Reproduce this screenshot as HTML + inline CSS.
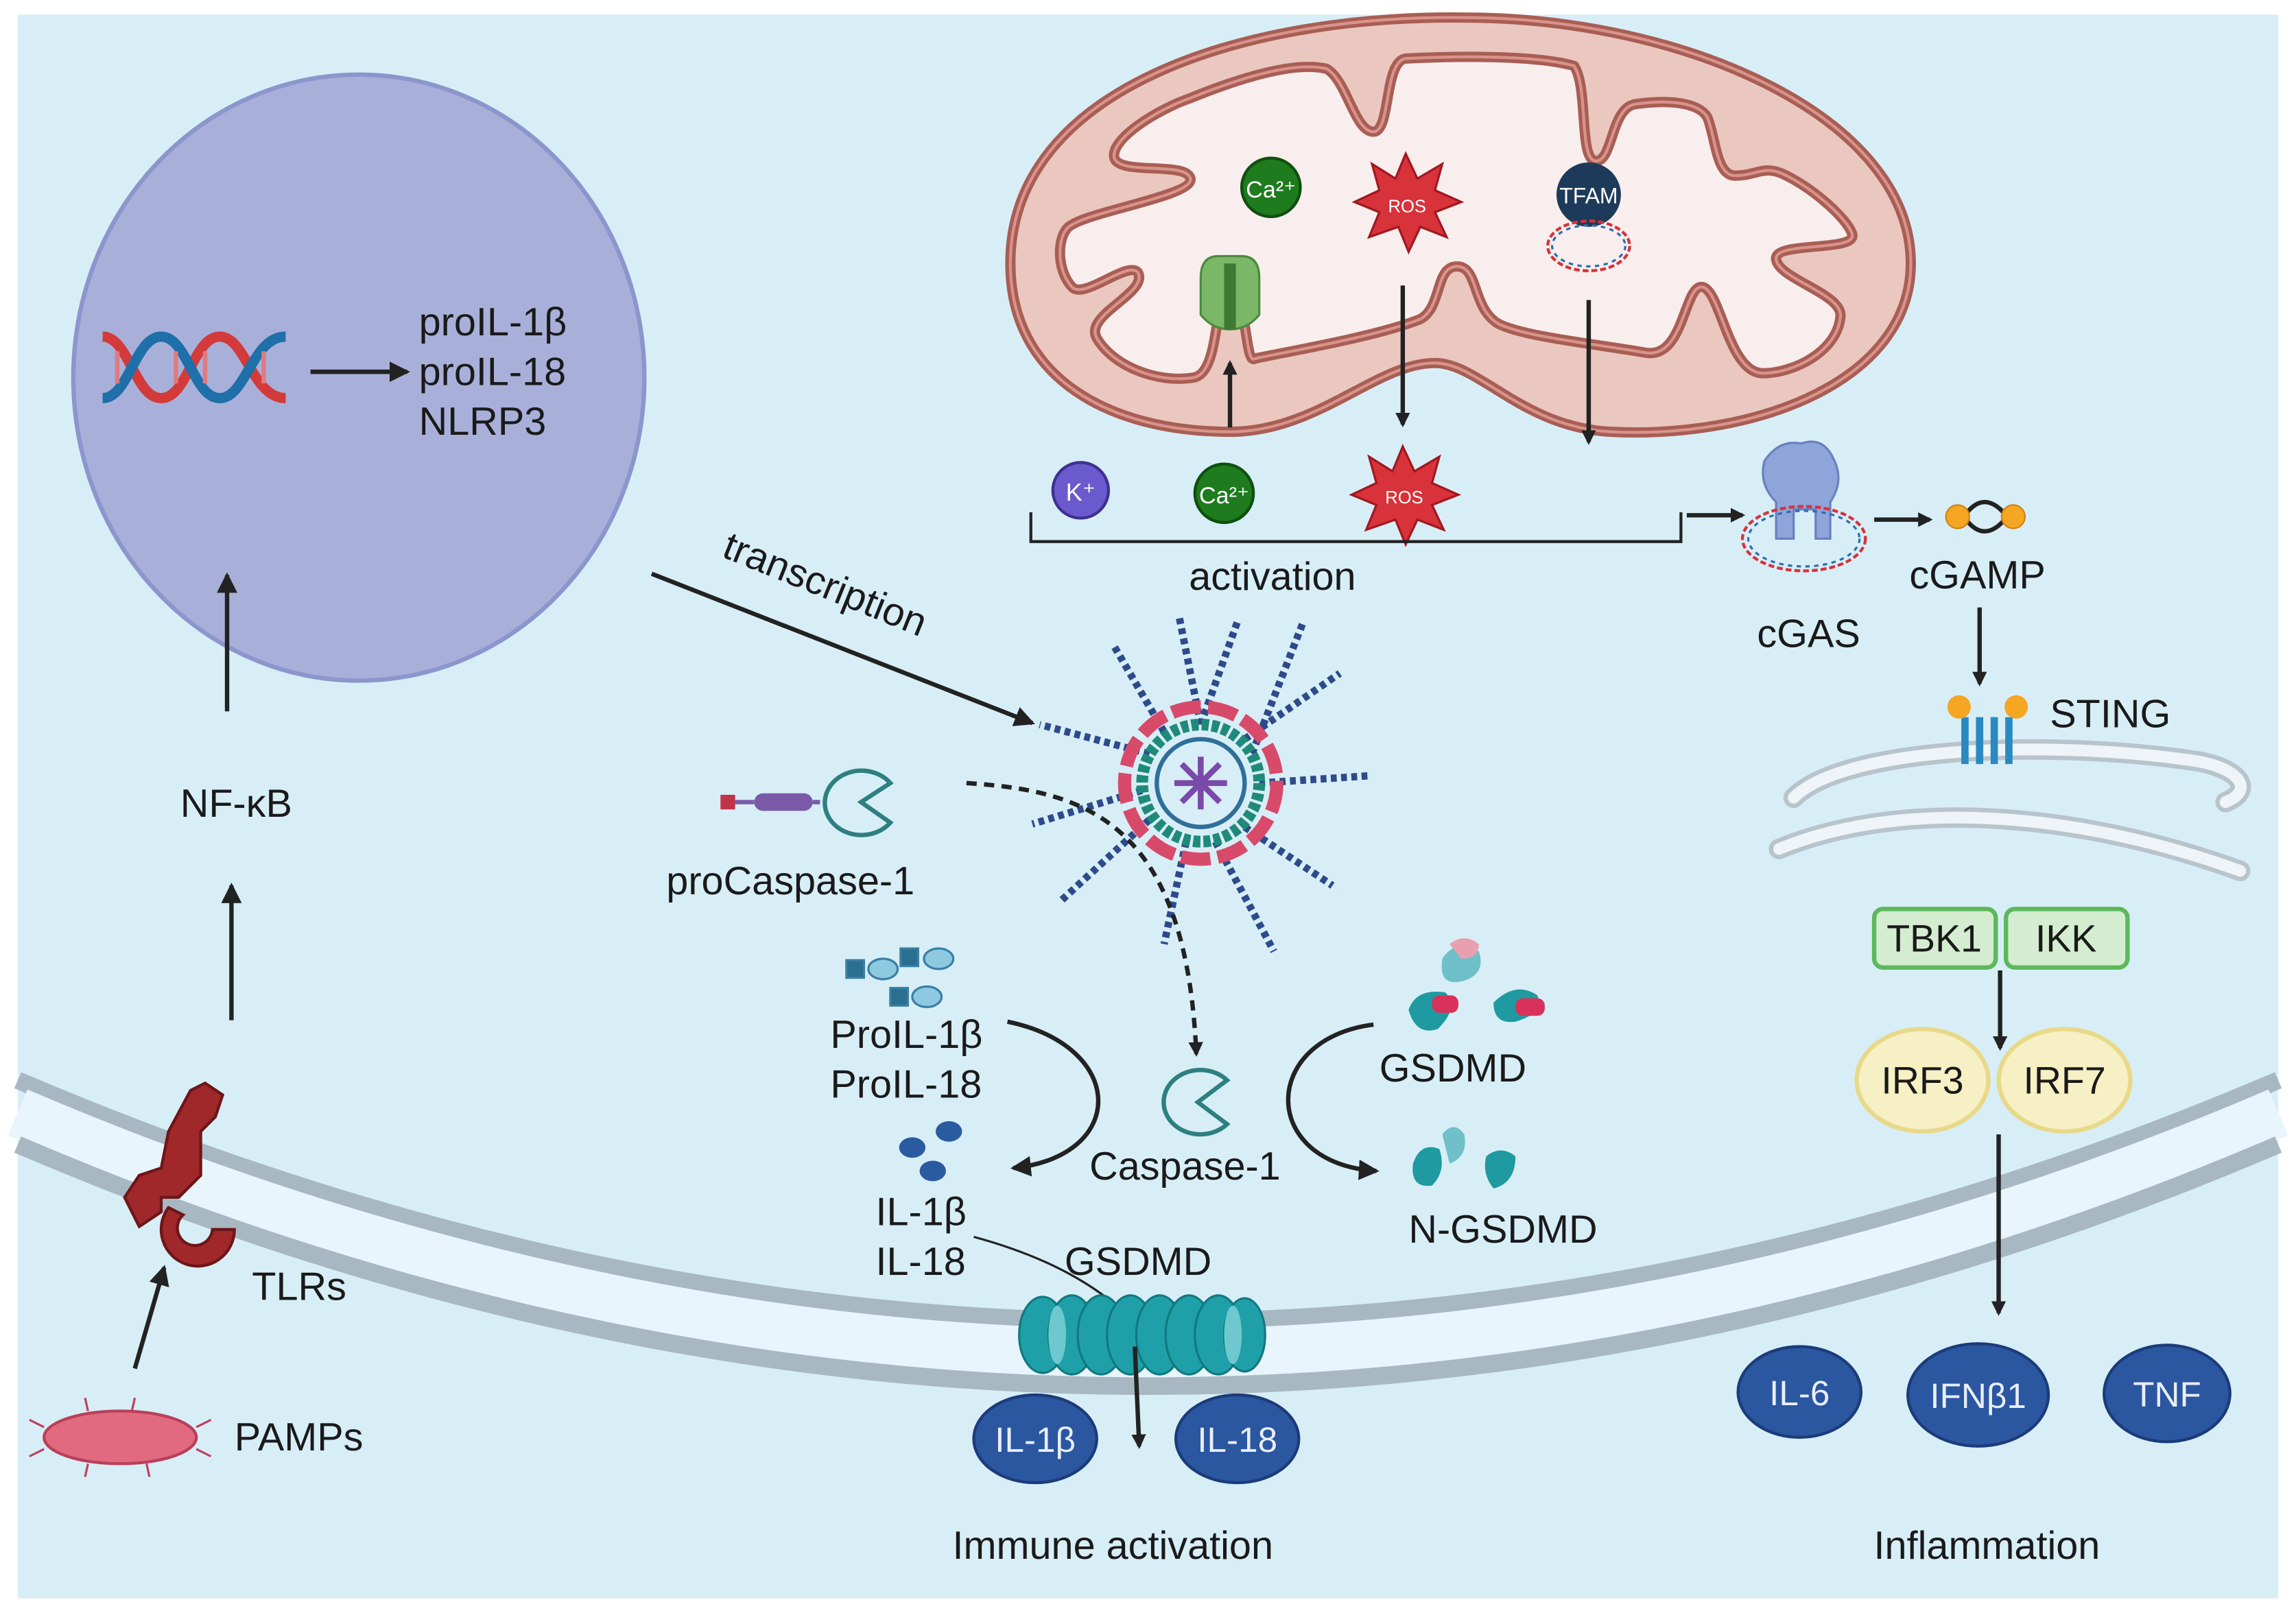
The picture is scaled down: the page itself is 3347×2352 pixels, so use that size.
<!DOCTYPE html>
<html><head><meta charset="utf-8"><style>
html,body{margin:0;padding:0;background:#fff;}
svg{display:block;}
text{font-family:"Liberation Sans",sans-serif;fill:#1a1a1a;}
</style></head><body>
<svg width="3347" height="2352" viewBox="0 0 1568 1102" xmlns="http://www.w3.org/2000/svg">
<defs>
<marker id="ah" markerWidth="10" markerHeight="10" refX="8" refY="5" orient="auto" markerUnits="userSpaceOnUse"><path d="M0,0 L10,5 L0,10 z" fill="#222"/></marker>
<marker id="ah2" markerWidth="14" markerHeight="14" refX="12" refY="7" orient="auto" markerUnits="userSpaceOnUse"><path d="M0,0 L14,7 L0,14 z" fill="#222"/></marker>
</defs>
<rect x="12" y="10" width="1544" height="1082" fill="#d8eef7"/>
<!-- membrane -->
<path d="M12,738 Q784,1068 1556,738" fill="none" stroke="#a8b8c3" stroke-width="12"/>
<path d="M12,760 Q784,1090 1556,760" fill="none" stroke="#e8f5fc" stroke-width="34"/>
<path d="M12,782 Q784,1112 1556,782" fill="none" stroke="#a8b8c3" stroke-width="12"/>
<!-- nucleus -->
<ellipse cx="245" cy="258" rx="195" ry="207" fill="#a8b0da" stroke="#8c95cc" stroke-width="3"/>
<path d="M70,230 C88,230 92,272 110,272 C128,272 132,230 150,230 C168,230 172,272 195,272" fill="none" stroke="#d33a3a" stroke-width="7"/>
<path d="M70,272 C88,272 92,230 110,230 C128,230 132,272 150,272 C168,272 172,230 195,230" fill="none" stroke="#1f6fa8" stroke-width="7"/>
<g stroke="#e07a80" stroke-width="3"><line x1="80" y1="240" x2="80" y2="262"/><line x1="120" y1="240" x2="120" y2="262"/><line x1="140" y1="240" x2="140" y2="262"/><line x1="180" y1="240" x2="180" y2="262"/></g>
<line x1="212" y1="254" x2="278" y2="254" stroke="#222" stroke-width="3" marker-end="url(#ah2)"/>
<text x="286" y="229" font-size="27">proIL-1β</text>
<text x="286" y="263" font-size="27">proIL-18</text>
<text x="286" y="297" font-size="27">NLRP3</text>
<line x1="155" y1="486" x2="155" y2="393" stroke="#222" stroke-width="3" marker-end="url(#ah2)"/>
<text x="123" y="558" font-size="27">NF-κB</text>
<line x1="158" y1="697" x2="158" y2="605" stroke="#222" stroke-width="3" marker-end="url(#ah2)"/>
<!-- TLRs -->
<path d="M130,745 l10,-5 l12,8 l-5,15 l-10,10 l0,30 l-15,15 l-12,0 l0,10 l-15,10 l-10,-20 l10,-15 l15,-5 l5,-25 z" fill="#a0272a" stroke="#6d1618" stroke-width="2"/>
<path d="M115,825 a25,25 0 1,0 45,15 l-15,0 a12,12 0 1,1 -20,-10 z" fill="#a0272a" stroke="#6d1618" stroke-width="2"/>
<text x="172" y="888" font-size="27">TLRs</text>
<line x1="92" y1="935" x2="112" y2="866" stroke="#222" stroke-width="3" marker-end="url(#ah2)"/>
<ellipse cx="82" cy="982" rx="52" ry="18" fill="#e26a80" stroke="#b84058" stroke-width="2"/>
<g stroke="#c04060" stroke-width="1.5"><line x1="30" y1="975" x2="20" y2="970"/><line x1="30" y1="990" x2="20" y2="995"/><line x1="134" y1="975" x2="144" y2="970"/><line x1="134" y1="990" x2="144" y2="995"/><line x1="60" y1="964" x2="58" y2="955"/><line x1="90" y1="964" x2="92" y2="955"/><line x1="60" y1="1000" x2="58" y2="1009"/><line x1="100" y1="1000" x2="102" y2="1009"/></g>
<text x="160" y="991" font-size="27">PAMPs</text>
<!-- transcription -->
<line x1="445" y1="392" x2="705" y2="494" stroke="#222" stroke-width="3" marker-end="url(#ah2)"/>
<text x="492" y="380" font-size="27" transform="rotate(22 492 380)">transcription</text>
<!-- inflammasome -->
<g transform="translate(820,535)">
<g stroke="#2d4b8a" stroke-width="5" stroke-dasharray="4 3">
<line x1="0" y1="-40" x2="-15" y2="-115"/><line x1="0" y1="-40" x2="25" y2="-110"/><line x1="30" y1="-30" x2="95" y2="-75"/><line x1="40" y1="0" x2="115" y2="-5"/><line x1="30" y1="30" x2="90" y2="70"/><line x1="10" y1="40" x2="50" y2="115"/><line x1="-10" y1="40" x2="-25" y2="110"/><line x1="-35" y1="25" x2="-95" y2="80"/><line x1="-40" y1="5" x2="-115" y2="28"/><line x1="-35" y1="-20" x2="-110" y2="-40"/><line x1="-25" y1="-35" x2="-60" y2="-95"/><line x1="35" y1="-20" x2="70" y2="-110"/>
</g>
<circle r="52" fill="none" stroke="#d84a6a" stroke-width="9" stroke-dasharray="20 5"/>
<circle r="40" fill="#d8eef7" stroke="#1f8a7a" stroke-width="8" stroke-dasharray="5 2"/>
<circle r="30" fill="#d8eef7" stroke="#2f6f9a" stroke-width="3"/>
<g stroke="#7a4aa8" stroke-width="4"><line x1="-18" y1="0" x2="18" y2="0"/><line x1="0" y1="-18" x2="0" y2="18"/><line x1="-13" y1="-13" x2="13" y2="13"/><line x1="-13" y1="13" x2="13" y2="-13"/></g>
</g>
<!-- proCaspase -->
<rect x="492" y="543" width="10" height="10" fill="#c0344a"/>
<line x1="502" y1="548" x2="515" y2="548" stroke="#7a5aa8" stroke-width="3"/>
<rect x="515" y="542" width="40" height="12" rx="6" fill="#7a5aa8"/>
<line x1="555" y1="548" x2="560" y2="548" stroke="#7a5aa8" stroke-width="3"/>
<path d="M608,535 A25,22 0 1,0 608,562 L588,548 z" fill="#d8eef7" stroke="#2e7f80" stroke-width="3"/>
<text x="455" y="611" font-size="27">proCaspase-1</text>
<path d="M660,535 C740,540 810,560 817,720" fill="none" stroke="#222" stroke-width="3" stroke-dasharray="7 5" marker-end="url(#ah)"/>
<!-- ProIL icons -->
<g fill="#8fc9e0" stroke="#3a7fa5" stroke-width="1.5"><rect x="578" y="656" width="12" height="12" fill="#2a6f8f"/><ellipse cx="603" cy="662" rx="10" ry="7"/><rect x="615" y="648" width="12" height="12" fill="#2a6f8f"/><ellipse cx="641" cy="655" rx="10" ry="7"/><rect x="608" y="675" width="12" height="12" fill="#2a6f8f"/><ellipse cx="633" cy="681" rx="10" ry="7"/></g>
<text x="567" y="716" font-size="27">ProIL-1β</text>
<text x="567" y="750" font-size="27">ProIL-18</text>
<path d="M688,698 C770,715 770,790 692,798" fill="none" stroke="#222" stroke-width="3" marker-end="url(#ah2)"/>
<g fill="#2a5aa0"><ellipse cx="623" cy="784" rx="9" ry="7"/><ellipse cx="648" cy="773" rx="9" ry="7"/><ellipse cx="637" cy="800" rx="9" ry="7"/></g>
<text x="598" y="837" font-size="27">IL-1β</text>
<text x="598" y="871" font-size="27">IL-18</text>
<path d="M838,738 A25,22 0 1,0 838,768 L818,753 z" fill="#d8eef7" stroke="#2e7f80" stroke-width="3"/>
<text x="744" y="806" font-size="27">Caspase-1</text>
<!-- GSDMD -->
<g><path d="M985,655 q10,-15 25,-5 q5,15 -10,20 q-18,5 -15,-15z" fill="#6fc0c8"/><path d="M990,645 q10,-8 20,0 q0,10 -12,10z" fill="#e8a0b0"/>
<path d="M962,690 q5,-15 25,-12 q10,10 -5,25 q-15,5 -20,-13z" fill="#1f9aa0"/><rect x="978" y="680" width="18" height="12" rx="5" fill="#d8325a"/>
<path d="M1020,685 q15,-15 30,-5 q5,12 -15,18 q-15,2 -15,-13z" fill="#1f9aa0"/><rect x="1035" y="682" width="20" height="12" rx="5" fill="#d8325a"/></g>
<text x="942" y="739" font-size="27">GSDMD</text>
<path d="M938,700 C860,710 860,795 940,800" fill="none" stroke="#222" stroke-width="3" marker-end="url(#ah2)"/>
<g fill="#1f9aa0"><path d="M965,795 q5,-15 18,-10 q5,15 -5,25 q-15,2 -13,-15z"/><path d="M985,775 q8,-10 15,0 q3,15 -10,20z" fill="#6fc0c8"/><path d="M1015,790 q10,-8 20,0 q0,18 -15,22 q-8,-10 -5,-22z"/></g>
<text x="962" y="849" font-size="27">N-GSDMD</text>
<text x="727" y="871" font-size="27">GSDMD</text>
<path d="M665,845 C720,860 750,880 772,900" fill="none" stroke="#222" stroke-width="1.5"/>
<g fill="#1fa0a8" stroke="#127880" stroke-width="1.5">
<ellipse cx="712" cy="912" rx="16" ry="26"/><ellipse cx="732" cy="912" rx="16" ry="27"/><ellipse cx="752" cy="912" rx="16" ry="27"/><ellipse cx="772" cy="912" rx="16" ry="27"/><ellipse cx="792" cy="912" rx="16" ry="27"/><ellipse cx="812" cy="912" rx="16" ry="27"/><ellipse cx="832" cy="912" rx="16" ry="27"/><ellipse cx="850" cy="912" rx="14" ry="25"/></g>
<g fill="#6fc8d0"><ellipse cx="722" cy="912" rx="6" ry="20"/><ellipse cx="842" cy="912" rx="6" ry="20"/></g>
<line x1="775" y1="920" x2="778" y2="988" stroke="#222" stroke-width="3" marker-end="url(#ah)"/>
<g stroke="#1c3b7a" stroke-width="2" fill="#2b56a0"><ellipse cx="707" cy="983" rx="42" ry="30"/><ellipse cx="845" cy="983" rx="42" ry="30"/>
<ellipse cx="1229" cy="951" rx="42" ry="31"/><ellipse cx="1351" cy="953" rx="48" ry="35"/><ellipse cx="1480" cy="952" rx="43" ry="33"/></g>
<g font-size="24" text-anchor="middle"><text x="707" y="992" style="fill:#e8eef8">IL-1β</text><text x="845" y="992" style="fill:#e8eef8">IL-18</text>
<text x="1229" y="960" style="fill:#e8eef8">IL-6</text><text x="1351" y="962" style="fill:#e8eef8">IFNβ1</text><text x="1480" y="961" style="fill:#e8eef8">TNF</text></g>
<text x="760" y="1065" font-size="27" text-anchor="middle">Immune activation</text>
<text x="1357" y="1065" font-size="27" text-anchor="middle">Inflammation</text>
<!-- mitochondrion -->
<path d="M690,180 C690,60 850,10 1000,12 C1150,12 1305,80 1305,180 C1305,260 1200,300 1100,295 C1040,292 1010,248 980,248 C940,248 900,295 840,295 C760,295 690,260 690,180 Z" fill="#eac8c0" stroke="#a85e55" stroke-width="7"/>
<path d="M690,180 C690,60 850,10 1000,12 C1150,12 1305,80 1305,180 C1305,260 1200,300 1100,295 C1040,292 1010,248 980,248 C940,248 900,295 840,295 C760,295 690,260 690,180 Z" fill="none" stroke="#d9938a" stroke-width="2"/>
<path id="crist" d="M813,67 C850,52 885,42 906,47 C920,55 925,90 938,90 C950,90 945,42 960,40 C1000,38 1050,38 1075,45 C1085,60 1078,110 1090,110 C1102,110 1100,72 1118,71 C1140,68 1160,70 1166,80 C1172,95 1172,120 1185,120 C1200,120 1205,112 1220,120 C1240,130 1262,150 1265,160 C1268,172 1215,165 1213,176 C1212,190 1258,200 1257,216 C1255,240 1225,255 1204,255 C1180,255 1175,196 1162,196 C1150,196 1150,245 1124,241 C1090,235 1040,230 1023,221 C1005,210 1010,182 995,182 C980,182 985,210 970,218 C940,230 880,240 857,245 C850,250 852,200 840,200 C828,200 834,255 815,258 C790,262 760,250 749,231 C740,215 785,200 777,186 C770,178 740,205 732,196 C722,185 722,165 728,157 C735,145 815,135 813,122 C810,110 765,120 761,108 C758,95 790,75 813,67 Z" fill="#f8eeee" stroke="#a85e55" stroke-width="7" stroke-linejoin="round"/>
<path d="M813,67 C850,52 885,42 906,47 C920,55 925,90 938,90 C950,90 945,42 960,40 C1000,38 1050,38 1075,45 C1085,60 1078,110 1090,110 C1102,110 1100,72 1118,71 C1140,68 1160,70 1166,80 C1172,95 1172,120 1185,120 C1200,120 1205,112 1220,120 C1240,130 1262,150 1265,160 C1268,172 1215,165 1213,176 C1212,190 1258,200 1257,216 C1255,240 1225,255 1204,255 C1180,255 1175,196 1162,196 C1150,196 1150,245 1124,241 C1090,235 1040,230 1023,221 C1005,210 1010,182 995,182 C980,182 985,210 970,218 C940,230 880,240 857,245 C850,250 852,200 840,200 C828,200 834,255 815,258 C790,262 760,250 749,231 C740,215 785,200 777,186 C770,178 740,205 732,196 C722,185 722,165 728,157 C735,145 815,135 813,122 C810,110 765,120 761,108 C758,95 790,75 813,67 Z" fill="none" stroke="#d9938a" stroke-width="2" stroke-linejoin="round"/>
<circle cx="868" cy="128" r="20" fill="#1e7b1e" stroke="#0f4f0f" stroke-width="2"/>
<text x="868" y="135" font-size="16" text-anchor="middle" style="fill:#fff">Ca²⁺</text>
<polygon points="960,105 968,122 985,112 980,130 998,138 980,145 988,162 970,155 962,172 955,155 935,162 942,145 925,138 942,130 937,112 953,122" fill="#d8323a" stroke="#a01820" stroke-width="1.5"/>
<text x="961" y="145" font-size="12" text-anchor="middle" style="fill:#fff">ROS</text>
<circle cx="1085" cy="133" r="22" fill="#1e3a5a"/>
<text x="1085" y="139" font-size="15" text-anchor="middle" style="fill:#fff">TFAM</text>
<ellipse cx="1085" cy="168" rx="28" ry="17" fill="none" stroke="#d8323a" stroke-width="2" stroke-dasharray="4 2"/>
<ellipse cx="1085" cy="168" rx="25" ry="14" fill="none" stroke="#2a6fb0" stroke-width="1.5" stroke-dasharray="3 3"/>
<path d="M820,190 q0,-15 12,-15 l16,0 q12,0 12,15 l0,25 q-8,10 -20,10 q-12,0 -20,-10z" fill="#7ab868" stroke="#4c8a40" stroke-width="1.5"/>
<rect x="836" y="180" width="8" height="45" fill="#3e7a34"/>
<line x1="840" y1="292" x2="840" y2="248" stroke="#222" stroke-width="3" marker-end="url(#ah)"/>
<line x1="958" y1="195" x2="958" y2="290" stroke="#222" stroke-width="3" marker-end="url(#ah)"/>
<line x1="1085" y1="205" x2="1085" y2="302" stroke="#222" stroke-width="3" marker-end="url(#ah)"/>
<circle cx="738" cy="335" r="19" fill="#6a5acd" stroke="#3e3090" stroke-width="2"/>
<text x="738" y="342" font-size="17" text-anchor="middle" style="fill:#fff">K⁺</text>
<circle cx="836" cy="337" r="20" fill="#1e7b1e" stroke="#0f4f0f" stroke-width="2"/>
<text x="836" y="344" font-size="16" text-anchor="middle" style="fill:#fff">Ca²⁺</text>
<polygon points="958,305 966,322 983,312 978,330 996,338 978,345 986,362 968,355 960,372 953,355 933,362 940,345 923,338 940,330 935,312 951,322" fill="#d8323a" stroke="#a01820" stroke-width="1.5"/>
<text x="959" y="344" font-size="12" text-anchor="middle" style="fill:#fff">ROS</text>
<polyline points="704,350 704,370 1148,370 1148,350" fill="none" stroke="#222" stroke-width="2"/>
<text x="869" y="403" font-size="27" text-anchor="middle">activation</text>
<line x1="1152" y1="352" x2="1190" y2="352" stroke="#222" stroke-width="3" marker-end="url(#ah)"/>
<!-- cGAS -->
<path d="M1205,315 q10,-15 25,-12 q15,-5 22,10 q8,15 -2,30 l0,25 l-10,0 l0,-20 l-15,0 l0,20 l-12,0 l0,-25 q-12,-12 -8,-28z" fill="#8fa4d8" stroke="#6a80c0" stroke-width="1.5"/>
<ellipse cx="1232" cy="368" rx="42" ry="22" fill="none" stroke="#d8323a" stroke-width="2" stroke-dasharray="4 2"/>
<ellipse cx="1232" cy="368" rx="38" ry="19" fill="none" stroke="#2a6fb0" stroke-width="1.5" stroke-dasharray="3 3"/>
<text x="1200" y="442" font-size="27">cGAS</text>
<line x1="1280" y1="355" x2="1318" y2="355" stroke="#222" stroke-width="3" marker-end="url(#ah)"/>
<path d="M1342,352 q13,-18 28,0 M1342,354 q13,18 28,0" fill="none" stroke="#222" stroke-width="3"/>
<circle cx="1337" cy="353" r="8" fill="#f5a623" stroke="#d08010"/><circle cx="1375" cy="353" r="8" fill="#f5a623" stroke="#d08010"/>
<text x="1304" y="402" font-size="27">cGAMP</text>
<line x1="1352" y1="415" x2="1352" y2="467" stroke="#222" stroke-width="3" marker-end="url(#ah)"/>
<!-- ER -->
<g fill="none" stroke="#b8c4cc" stroke-width="14" stroke-linecap="round">
<path d="M1225,545 C1260,510 1400,505 1500,520 C1530,525 1540,540 1520,548"/>
<path d="M1215,580 C1300,545 1420,555 1530,595"/>
</g>
<g fill="none" stroke="#eef4f8" stroke-width="8" stroke-linecap="round">
<path d="M1225,545 C1260,510 1400,505 1500,520 C1530,525 1540,540 1520,548"/>
<path d="M1215,580 C1300,545 1420,555 1530,595"/>
</g>
<g stroke="#2a8ac0" stroke-width="5"><line x1="1342" y1="490" x2="1342" y2="522"/><line x1="1352" y1="490" x2="1352" y2="522"/><line x1="1362" y1="490" x2="1362" y2="522"/><line x1="1372" y1="490" x2="1372" y2="522"/></g>
<circle cx="1338" cy="483" r="8" fill="#f5a623"/><circle cx="1377" cy="483" r="8" fill="#f5a623"/>
<text x="1400" y="497" font-size="27">STING</text>
<rect x="1280" y="621" width="83" height="40" rx="6" fill="#d4edd0" stroke="#5cb85c" stroke-width="3"/>
<rect x="1370" y="621" width="83" height="40" rx="6" fill="#d4edd0" stroke="#5cb85c" stroke-width="3"/>
<text x="1321" y="650" font-size="26" text-anchor="middle">TBK1</text>
<text x="1411" y="650" font-size="26" text-anchor="middle">IKK</text>
<line x1="1366" y1="663" x2="1366" y2="716" stroke="#222" stroke-width="3" marker-end="url(#ah)"/>
<ellipse cx="1313" cy="738" rx="45" ry="35" fill="#f6f0c4" stroke="#e8d98a" stroke-width="3"/>
<ellipse cx="1410" cy="738" rx="45" ry="35" fill="#f6f0c4" stroke="#e8d98a" stroke-width="3"/>
<text x="1313" y="747" font-size="26" text-anchor="middle">IRF3</text>
<text x="1410" y="747" font-size="26" text-anchor="middle">IRF7</text>
<line x1="1365" y1="775" x2="1365" y2="897" stroke="#222" stroke-width="3" marker-end="url(#ah)"/>
</svg>
</body></html>
